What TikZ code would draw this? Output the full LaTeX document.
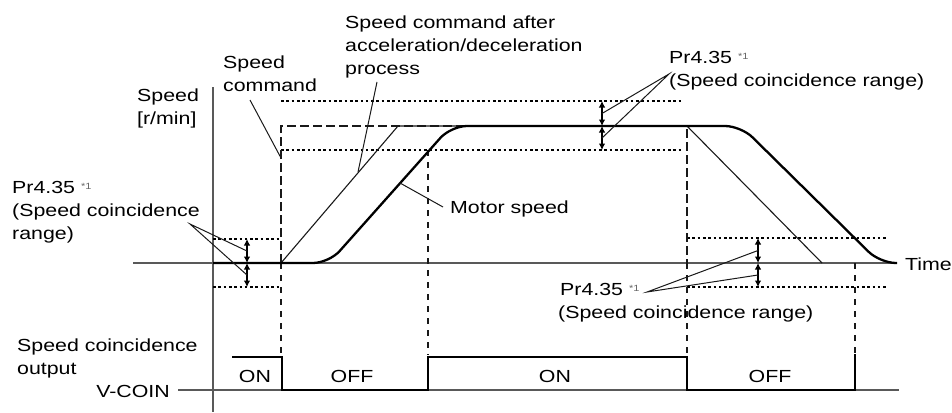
\documentclass[tikz,border=0pt]{standalone}
\usepackage{fontspec}
\setmainfont{Liberation Sans}[FakeStretch=1.22]
\usetikzlibrary{arrows.meta,calc}

\newcommand{\noteone}{{\fontsize{9}{9}\selectfont\raisebox{4pt}{\color{black!60}*1}}}

\begin{document}
\begin{tikzpicture}
[x=1pt,y=-1pt,
  textDecorate/.style={inner sep=0pt,align=left,font=\fontsize{17.5}{23}\selectfont},
  axisDecorate/.style={draw=black!65,line width=1.3pt},
  thinDecorate/.style={draw=black!90,line width=1.1pt},
  thickDecorate/.style={draw=black,line width=2.3pt},
  cmdDecorate/.style={draw=black!90,line width=1.9pt,dash pattern=on 9pt off 4pt},
  dotDecorate/.style={draw=black,line width=1.4pt,dash pattern=on 2.6pt off 2.7pt},
  vdashDecorate/.style={draw=black!90,line width=1.1pt,dash pattern=on 6pt off 6pt},
  rangeDecorate/.style={{Latex[length=6.5pt,width=6.5pt]}-{Latex[length=6.5pt,width=6.5pt]},line width=1.1pt},
  leaderDecorate/.style={draw=black!90,line width=1pt},
  sigDecorate/.style={draw=black,line width=1.9pt}]
\useasboundingbox (0,0) rectangle (952,412);
%% points of the speed chart
\foreach \ptname/\x/\y in {orig/213/263, axtop/213/87, axbot/213/412, axleft/133/263, axright/897/263,
  cmdA/281/263, cmdB/281/126, cmdC/687/126, cmdD/687/263,
  accA/398/126, accB/822/263,
  motA/329/263, motB/451/126, motC/741/126, motD/880/263}
{
  \coordinate (\ptname) at (\x,\y);
}
%% axes
\draw[axisDecorate] (axtop) -- (axbot);
\draw[axisDecorate] (axleft) -- (axright);
%% speed coincidence ranges
\foreach \y/\xa/\xb in {239/213/281, 287/213/281, 101/281/683, 150/281/683, 238/687/887, 287/687/887}
{
  \draw[dotDecorate] (\xa,\y) -- (\xb,\y);
}
\foreach \x/\y in {281/263, 428/150, 687/263, 855/263}
{
  \draw[vdashDecorate] (\x,\y) -- (\x,355);
}
%% speed curves
\draw[cmdDecorate] (cmdA) -- (cmdB) -- (cmdC) -- (cmdD);
\draw[thinDecorate] (cmdA) -- (accA) -- (cmdC) -- (accB);
\draw[thickDecorate,rounded corners=16pt] (orig) -- (motA) -- (motB) -- (motC) -- (motD) -- (axright);
%% range arrows
\foreach \rname/\x/\ya/\yb/\yc in {L/247/239/263/287, T/602/101/126/150, R/758/238/263/287}
{
  \coordinate (\rname a) at (\x,\ya);
  \coordinate (\rname b) at (\x,\yb);
  \coordinate (\rname c) at (\x,\yc);
  \coordinate (\rname m) at ($(\rname a)!.5!(\rname b)$);
  \coordinate (\rname n) at ($(\rname b)!.5!(\rname c)$);
  \draw[rangeDecorate] (\rname a) -- (\rname b);
  \draw[rangeDecorate] (\rname b) -- (\rname c);
}
%% labels
\node[textDecorate,anchor=base west] (speedlbl) at (137,124) {Speed\\{[r/min]}};
\node[textDecorate,anchor=base west] (cmdlbl) at (223,91) {Speed\\command};
\node[textDecorate,anchor=base west] (acclbl) at (345,74.5) {Speed command after\\acceleration/deceleration\\process};
\node[textDecorate,anchor=base west] (motlbl) at (450,213.5) {Motor speed};
\node[textDecorate,anchor=base west] (timelbl) at (905,270) {Time};
\node[textDecorate,anchor=base west] (rangeL) at (12,239) {Pr4.35 \noteone\\(Speed coincidence\\range)};
\node[textDecorate,anchor=base west] (rangeT) at (669,86.5) {Pr4.35 \noteone\\(Speed coincidence range)};
\node[textDecorate,anchor=base west] (rangeR) at (558,318) {\hspace{2pt}Pr4.35 \noteone\\(Speed coincidence range)};
%% leaders
\foreach \ptname/\x/\y in {ldL/190/224, ldT/669/74, ldR/647/292, ldC/250/100, ldCe/281/158, ldA/377/82, ldAe/358/172, ldM/443/207, ldMe/400/183}
{
  \coordinate (\ptname) at (\x,\y);
}
\draw[leaderDecorate] (Lm) -- (ldL) -- (Ln);
\draw[leaderDecorate] (Tm) -- (ldT) -- (Tn);
\draw[leaderDecorate] (Rm) -- (ldR) -- (Rn);
\draw[leaderDecorate] (ldC) -- (ldCe);
\draw[leaderDecorate] (ldA) -- (ldAe);
\draw[leaderDecorate] (ldM) -- (ldMe);
%% V-COIN output
\node[textDecorate,anchor=base west] (outlbl) at (17,374) {Speed coincidence\\output};
\node[textDecorate,anchor=base east] (vcoin) at (170,397) {V-COIN};
\draw[thinDecorate,draw=black!65] (178,390) -- (899,390);
\foreach \ptname/\x/\y in {sA/232/357, sB/282/357, sC/282/390, sD/428/390, sE/428/357, sF/687/357, sG/687/390, sH/855/390, sI/855/354}
{
  \coordinate (\ptname) at (\x,\y);
}
\draw[sigDecorate] (sA) -- (sB) -- (sC) -- (sD) -- (sE) -- (sF) -- (sG) -- (sH) -- (sI);
\foreach \nodename/\x/\txt in {on1/255/ON, off1/352/OFF, on2/555/ON, off2/770/OFF}
{
  \node[textDecorate,anchor=base] (\nodename) at (\x,382) {\txt};
}
\end{tikzpicture}
\end{document}
